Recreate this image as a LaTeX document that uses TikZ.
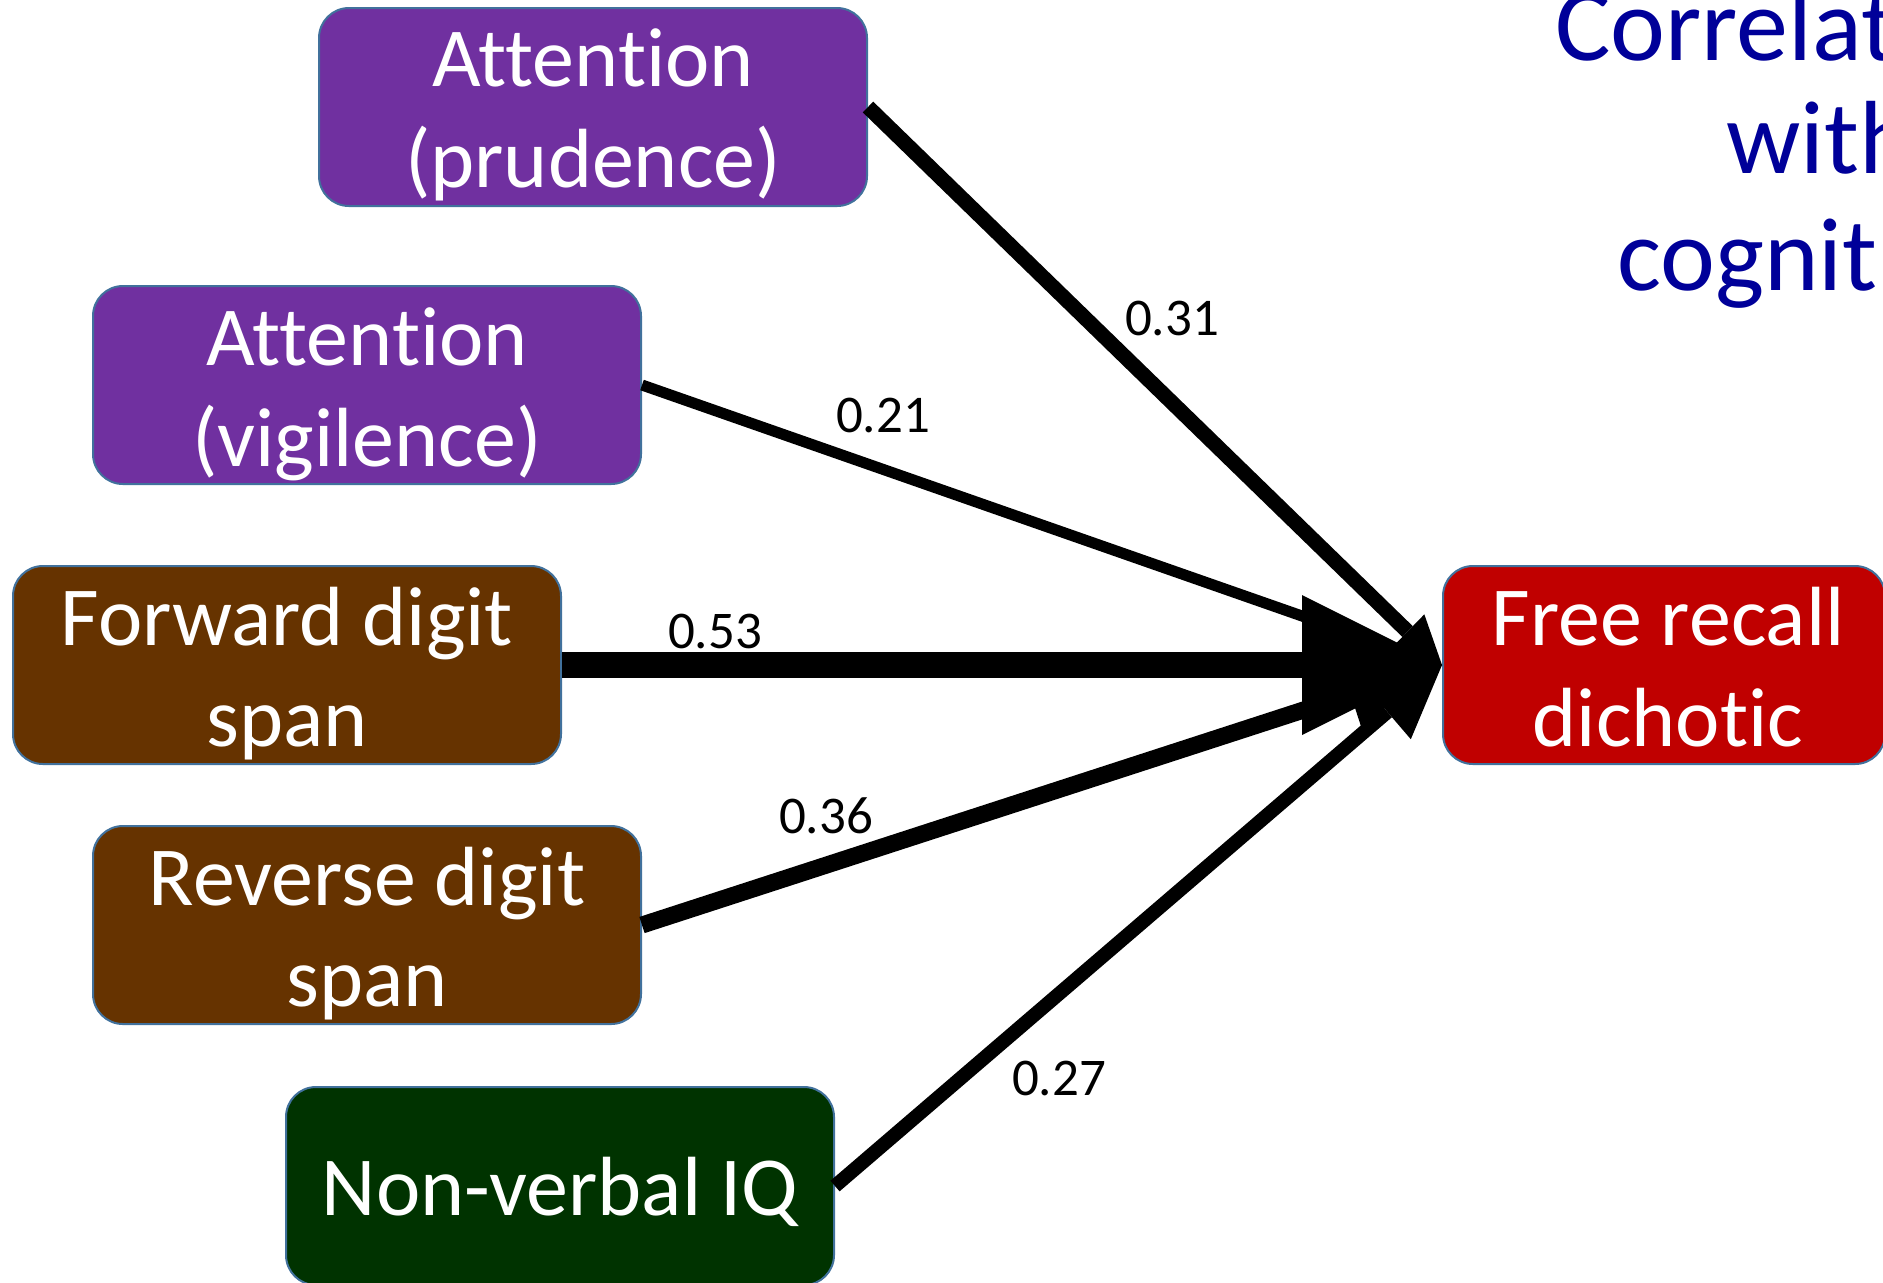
\documentclass[tikz,border=0pt]{standalone}
\usepackage{fontspec}
\setmainfont{Carlito}[Ligatures=NoCommon]
\usetikzlibrary{arrows.meta}

\definecolor{attn}{HTML}{7030A0}
\definecolor{digit}{HTML}{663300}
\definecolor{iqgreen}{HTML}{003300}
\definecolor{target}{HTML}{C00000}
\definecolor{edge}{HTML}{41719C}
\definecolor{titleblue}{HTML}{000099}

\begin{document}
\begin{tikzpicture}[x=0.5pt,y=-0.5pt,
  box/.style={draw=edge, line width=1pt, rounded corners=15pt, inner sep=0pt,
              minimum width=274pt, minimum height=99pt},
  boxtext/.style={text=white, font=\fontsize{42}{50.5}\selectfont, align=center, inner sep=0pt,
                  execute at begin node={\rule{0pt}{32pt}},
                  execute at end node={\rule[-10pt]{0pt}{10pt}}},
  coef/.style={font=\fontsize{26.5}{30}\selectfont, anchor=base, inner sep=0pt},
  heading/.style={text=titleblue, font=\fontsize{52}{57}\selectfont, anchor=base west, inner sep=0pt},
  conn/.style={draw=black, line cap=butt}
]
\useasboundingbox (0,0) rectangle (1883,1282);
\clip (0,0) rectangle (1883,1282);

% heading, partly outside the frame
\node[heading] (h1) at (1555,60)  {Correlat};
\node[heading] (h2) at (1726,173) {with};
\node[heading] (h3) at (1617,290) {cognit};

% measure boxes
\node[box, fill=attn]    (pru) at (593,107)  {};
\node[box, fill=attn]    (vig) at (367,385)  {};
\node[box, fill=digit]   (fwd) at (287,665)  {};
\node[box, fill=digit]   (rev) at (367,925)  {};
\node[box, fill=iqgreen] (iq)  at (560,1186) {};
\node[box, fill=target, minimum width=221pt] (rec) at (1664,665) {};

% box captions
\node[boxtext] (pru-t) at (593,118)  {Attention\\(prudence)};
\node[boxtext] (vig-t) at (367,397)  {Attention\\(vigilence)};
\node[boxtext] (fwd-t) at (287,677)  {Forward digit\\span};
\node[boxtext] (rev-t) at (367,937)  {Reverse digit\\span};
\node[boxtext] (iq-t)  at (560,1193) {Non-verbal IQ};
\node[boxtext] (rec-t) at (1668,677) {Free recall\\dichotic};

% correlation arrows, thickness by strength
\draw[conn, line width=5.5pt, -{Triangle[length=20pt,width=20pt,line width=0pt]}] (vig.east) -- (rec.west);
\draw[conn, line width=7.5pt, -{Triangle[length=24pt,width=24pt,line width=0pt]}] (pru.east) -- (rec.west);
\draw[conn, line width=8.5pt, -{Triangle[length=48pt,width=33pt,line width=0pt]}] (rev.east) -- (rec.west);
\draw[conn, line width=7pt,   -{Triangle[length=36pt,width=36pt,line width=0pt]}] (iq.east)  -- (rec.west);
\draw[conn, line width=13pt,  -{Triangle[length=70pt,width=70pt,line width=0pt]}] (fwd.east) -- (rec.west);

% coefficients
\node[coef] (c31) at (1172,335)  {0.31};
\node[coef] (c21) at (883,432)   {0.21};
\node[coef] (c53) at (715,648)   {0.53};
\node[coef] (c36) at (826,833)   {0.36};
\node[coef] (c27) at (1059,1095) {0.27};
\end{tikzpicture}
\end{document}
